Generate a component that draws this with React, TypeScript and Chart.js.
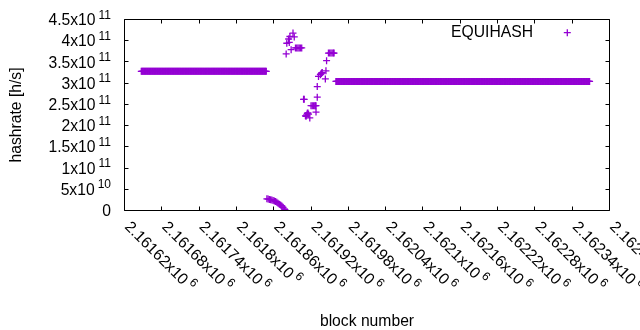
import React, { useEffect, useRef } from "react";
import { Chart, registerables } from "chart.js";

Chart.register(...registerables);

const COLOR = "#9400d3";
const FONT = "'Liberation Sans', Arial, sans-serif";
const FS = 15.7;
const SUP_FS = 12;

// Runs of blocks with a constant hashrate (one point per block)
const runStart = [2161647, 2161960];
const runEnd = [2161848, 2162368];
const runValue = [3.28e11, 3.04e11];

// Drop right after the first run
const dropBlocks = [
  2161849, 2161851, 2161853, 2161855, 2161857, 2161859, 2161861, 2161863,
  2161865, 2161867, 2161869, 2161871, 2161873, 2161875, 2161877, 2161878,
];
const dropValues = [
  2.75e10, 2.7e10, 2.62e10, 2.55e10, 2.47e10, 2.38e10, 2.25e10, 2.1e10,
  1.93e10, 1.72e10, 1.5e10, 1.27e10, 1.06e10, 0.75e10, 0.4e10, 0.2e10,
];

// Scattered transition blocks
const jumpBlocks = [
  2161880, 2161881, 2161884, 2161885, 2161886, 2161888, 2161891, 2161893,
  2161895, 2161897, 2161899, 2161901, 2161903, 2161905,
  2161908, 2161909, 2161911, 2161912, 2161913, 2161914, 2161915, 2161916,
  2161918, 2161920, 2161922, 2161924, 2161926, 2161927, 2161928, 2161928,
  2161930, 2161930, 2161932, 2161935, 2161936, 2161937, 2161938,
  2161943, 2161944, 2161945,
  2161948, 2161950, 2161952, 2161954, 2161956, 2161957,
];
const jumpValues = [
  3.69e11, 3.94e11, 4.04e11, 3.96e11, 4.1e11, 3.79e11, 4.18e11, 4.09e11,
  3.83e11, 3.83e11, 3.83e11, 3.83e11, 3.83e11, 3.83e11,
  2.62e11, 2.62e11, 2.23e11, 2.22e11, 2.25e11, 2.29e11, 2.3e11, 2.27e11,
  2.18e11, 2.47e11, 2.47e11, 2.47e11, 2.47e11, 2.47e11, 2.47e11, 2.32e11,
  2.67e11, 2.92e11, 3.16e11, 3.2e11, 3.22e11, 3.24e11, 3.25e11,
  3.1e11, 3.29e11, 3.53e11,
  3.71e11, 3.71e11, 3.71e11, 3.71e11, 3.71e11, 3.71e11,
];

const xMin = 2161620;
const xMax = 2162400;
const xTickValues = [
  2161620, 2161680, 2161740, 2161800, 2161860, 2161920, 2161980, 2162040,
  2162100, 2162160, 2162220, 2162280, 2162340, 2162400,
];
const xTickMain = [
  "2.16162x10", "2.16168x10", "2.16174x10", "2.1618x10", "2.16186x10",
  "2.16192x10", "2.16198x10", "2.16204x10", "2.1621x10", "2.16216x10",
  "2.16222x10", "2.16228x10", "2.16234x10", "2.1624x10",
];
const xTickSup = "6";

const yMin = 0;
const yMax = 4.5e11;
const yTickValues = [0, 5e10, 1e11, 1.5e11, 2e11, 2.5e11, 3e11, 3.5e11, 4e11, 4.5e11];
const yTickMain = ["0", "5x10", "1x10", "1.5x10", "2x10", "2.5x10", "3x10", "3.5x10", "4x10", "4.5x10"];
const yTickSup = ["", "10", "11", "11", "11", "11", "11", "11", "11", "11"];

const seriesLabel = "EQUIHASH";
const xTitle = "block number";
const yTitle = "hashrate [h/s]";

function buildRun(i: number) {
  const out: { x: number; y: number }[] = [];
  for (let b = runStart[i]; b <= runEnd[i]; b++) out.push({ x: b, y: runValue[i] });
  return out;
}
function buildPoints() {
  const pts: { x: number; y: number }[] = [];
  pts.push(...buildRun(0));
  dropBlocks.forEach((b, i) => pts.push({ x: b, y: dropValues[i] }));
  jumpBlocks.forEach((b, i) => pts.push({ x: b, y: jumpValues[i] }));
  pts.push(...buildRun(1));
  return pts;
}

const axesPlugin = {
  id: "gnuplotAxes",
  afterDatasetsDraw(chart: any) {
    const ctx: CanvasRenderingContext2D = chart.ctx;
    const { left, right, top, bottom } = chart.chartArea;
    const xs = chart.scales.x;
    const ys = chart.scales.y;
    const TL = 4;
    ctx.save();
    ctx.strokeStyle = "#000";
    ctx.lineWidth = 1;
    ctx.beginPath();
    ctx.rect(left, top, right - left, bottom - top);
    ctx.stroke();
    ctx.beginPath();
    xTickValues.forEach((v) => {
      const px = Math.round(xs.getPixelForValue(v) - 0.5) + 0.5;
      ctx.moveTo(px, bottom);
      ctx.lineTo(px, bottom - TL);
      ctx.moveTo(px, top);
      ctx.lineTo(px, top + TL);
    });
    yTickValues.forEach((v) => {
      const py = Math.round(ys.getPixelForValue(v) - 0.5) + 0.5;
      ctx.moveTo(left, py);
      ctx.lineTo(left + TL, py);
      ctx.moveTo(right, py);
      ctx.lineTo(right - TL, py);
    });
    ctx.stroke();

    ctx.fillStyle = "#000";
    ctx.textBaseline = "alphabetic";
    // y tick labels
    const yLabelRight = 111;
    yTickValues.forEach((v, i) => {
      const py = ys.getPixelForValue(v);
      const base = py + FS * 0.36;
      ctx.font = `${SUP_FS}px ${FONT}`;
      const sup = yTickSup[i];
      const supW = sup ? ctx.measureText(sup).width + 3 : 0;
      if (sup) {
        ctx.textAlign = "right";
        ctx.fillText(sup, yLabelRight, base - 6.5);
      }
      ctx.font = `${FS}px ${FONT}`;
      ctx.textAlign = "right";
      ctx.fillText(yTickMain[i], yLabelRight - supW, base);
    });
    // x tick labels (rotated)
    xTickValues.forEach((v, i) => {
      const px = xs.getPixelForValue(v);
      ctx.save();
      ctx.translate(px - 0.5, bottom + 17);
      ctx.rotate(Math.PI / 4);
      ctx.textAlign = "left";
      ctx.font = `${FS}px ${FONT}`;
      ctx.fillText(xTickMain[i], 0, 0);
      const w = ctx.measureText(xTickMain[i]).width;
      ctx.font = `${SUP_FS}px ${FONT}`;
      ctx.fillText(xTickSup, w + 3, -6.5);
      ctx.restore();
    });
    // titles
    ctx.font = `${FS}px ${FONT}`;
    ctx.textAlign = "center";
    ctx.fillText(xTitle, (left + right) / 2, 325.5);
    ctx.save();
    ctx.translate(21.4, (top + bottom) / 2);
    ctx.rotate(-Math.PI / 2);
    ctx.fillText(yTitle, 0, 0);
    ctx.restore();
    // legend
    ctx.textAlign = "right";
    ctx.fillText(seriesLabel, 533, 37.4);
    ctx.strokeStyle = COLOR;
    ctx.lineWidth = 1.3;
    ctx.beginPath();
    ctx.moveTo(567.3 - 3.5, 32.7);
    ctx.lineTo(567.3 + 3.5, 32.7);
    ctx.moveTo(567.3, 32.7 - 3.5);
    ctx.lineTo(567.3, 32.7 + 3.5);
    ctx.stroke();
    ctx.restore();
  },
};

export default function App() {
  const ref = useRef<HTMLCanvasElement | null>(null);
  useEffect(() => {
    document.body.style.margin = "0";
    if (!ref.current) return;
    const chart = new Chart(ref.current, {
      type: "scatter",
      data: {
        datasets: [
          {
            label: seriesLabel,
            data: buildPoints(),
            pointStyle: "cross",
            pointRadius: 3.5,
            pointHoverRadius: 3.5,
            borderColor: COLOR,
            backgroundColor: COLOR,
            borderWidth: 1.3,
            showLine: false,
          } as any,
        ],
      },
      options: {
        animation: false,
        responsive: false,
        maintainAspectRatio: false,
        events: [],
        layout: { padding: { left: 124.5, right: 30.5, top: 19.5, bottom: 119.5 } },
        plugins: { legend: { display: false }, tooltip: { enabled: false } },
        scales: {
          x: {
            type: "linear",
            min: xMin,
            max: xMax,
            ticks: { display: false },
            grid: { display: false, drawTicks: false },
            border: { display: false },
          },
          y: {
            type: "linear",
            min: yMin,
            max: yMax,
            ticks: { display: false },
            grid: { display: false, drawTicks: false },
            border: { display: false },
          },
        },
      },
      plugins: [axesPlugin],
    });
    return () => chart.destroy();
  }, []);
  return (
    <div style={{ width: 640, height: 330 }}>
      <canvas ref={ref} width={640} height={330} style={{ display: "block", width: 640, height: 330 }} />
    </div>
  );
}
